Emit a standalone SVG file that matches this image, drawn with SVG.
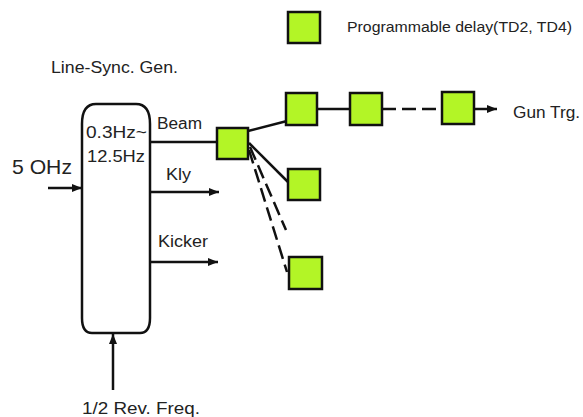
<svg xmlns="http://www.w3.org/2000/svg" width="583" height="417" viewBox="0 0 583 417">
<style>
  .t{font-family:"Liberation Sans","DejaVu Sans",sans-serif;fill:#222;}
  .d{fill:#b3f526;stroke:#111;stroke-width:2.5;}
  .ln{stroke:#111;stroke-width:2.5;fill:none;}
  .dash{stroke:#111;stroke-width:2.5;fill:none;stroke-dasharray:14,6;}
</style>
<defs>
  <marker id="ah" viewBox="0 0 10 8" refX="10" refY="4" markerWidth="10" markerHeight="8" markerUnits="userSpaceOnUse" orient="auto">
    <path d="M0,0 L10,4 L0,8 Z" fill="#111"/>
  </marker>
</defs>
<rect width="583" height="417" fill="#fff"/>

<g id="legend">
  <rect class="d" x="288" y="12" width="32" height="31"/>
  <text class="t" x="347" y="32" font-size="14" textLength="225" lengthAdjust="spacingAndGlyphs">Programmable delay(TD2, TD4)</text>
</g>

<g id="title">
  <text class="t" x="51" y="73" font-size="16" textLength="127" lengthAdjust="spacingAndGlyphs">Line-Sync. Gen.</text>
</g>

<g id="generator">
  <path class="ln" d="M82,124 Q82,104 96,104 L136,104 Q150,104 150,124 L150,318 Q150,333 140,333 L92,333 Q82,333 82,318 Z"/>
  <text class="t" x="86" y="138" font-size="16" textLength="61" lengthAdjust="spacingAndGlyphs">0.3Hz~</text>
  <text class="t" x="87" y="162" font-size="16" textLength="58" lengthAdjust="spacingAndGlyphs">12.5Hz</text>
</g>

<g id="in50">
  <text class="t" x="12" y="174" font-size="21" textLength="60" lengthAdjust="spacingAndGlyphs">5 OHz</text>
</g>

<g id="revfreq">
  <text class="t" x="82" y="414" font-size="16" textLength="118" lengthAdjust="spacingAndGlyphs">1/2 Rev. Freq.</text>
</g>

<g id="labels">
  <text class="t" x="157" y="129" font-size="16" textLength="45" lengthAdjust="spacingAndGlyphs">Beam</text>
  <text class="t" x="166" y="180" font-size="16" textLength="25" lengthAdjust="spacingAndGlyphs">Kly</text>
  <text class="t" x="158" y="247" font-size="16" textLength="50" lengthAdjust="spacingAndGlyphs">Kicker</text>
  <text class="t" x="513" y="118" font-size="17" textLength="67" lengthAdjust="spacingAndGlyphs">Gun Trg.</text>
</g>

<g id="connectors">
  <line class="ln" x1="48" y1="188" x2="82" y2="188" marker-end="url(#ah)"/>
  <line class="ln" x1="113" y1="390" x2="113" y2="334" marker-end="url(#ah)"/>
  <line class="ln" x1="150" y1="142" x2="217" y2="142"/>
  <line class="ln" x1="150" y1="192" x2="219" y2="192" marker-end="url(#ah)"/>
  <line class="ln" x1="150" y1="262" x2="218" y2="262" marker-end="url(#ah)"/>
  <line class="ln" x1="248" y1="131" x2="287" y2="121"/>
  <line class="ln" x1="249" y1="143" x2="288" y2="182"/>
  <line class="dash" x1="250" y1="147" x2="286" y2="230"/>
  <line class="dash" x1="249" y1="150" x2="287" y2="272"/>
  <line class="ln" x1="317" y1="109" x2="350" y2="109"/>
  <line class="dash" x1="382" y1="109" x2="442" y2="109"/>
  <line class="ln" x1="474" y1="109" x2="497" y2="109" marker-end="url(#ah)"/>
</g>

<g id="d1"><rect class="d" x="217" y="128" width="31" height="31"/></g>
<g id="d2"><rect class="d" x="286" y="93" width="31" height="32"/></g>
<g id="d3"><rect class="d" x="350" y="93" width="32" height="32"/></g>
<g id="d4"><rect class="d" x="442" y="92" width="32" height="32"/></g>
<g id="d5"><rect class="d" x="288" y="169" width="32" height="31"/></g>
<g id="d6"><rect class="d" x="289" y="257" width="33" height="32"/></g>
</svg>
